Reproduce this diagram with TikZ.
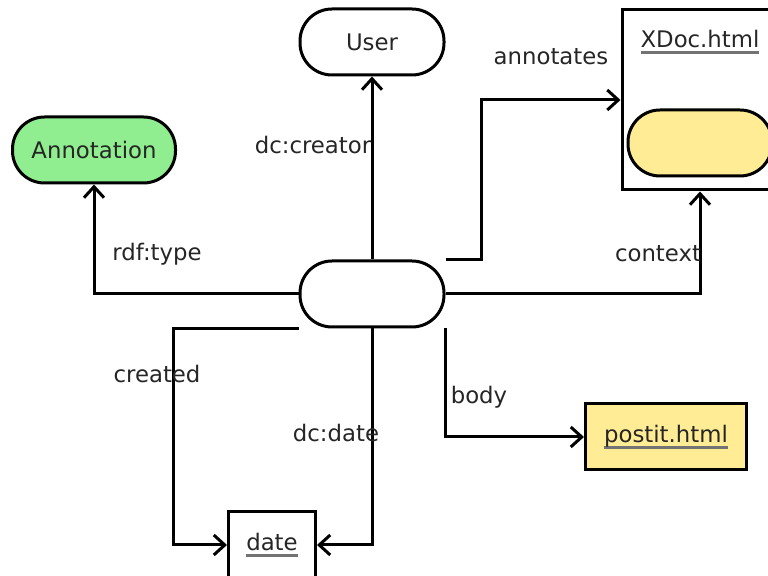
\documentclass[tikz,border=0pt]{standalone}
\usepackage{fontspec}
\setmainfont{DejaVu Sans}
\usepackage{xcolor}
\usetikzlibrary{positioning, arrows.meta, calc}

\definecolor{classgreen}{RGB}{144,238,144}
\definecolor{docyellow}{RGB}{255,236,148}
\newsavebox{\doclabelbox}
\newcommand{\docref}[1]{\sbox{\doclabelbox}{#1}%
  \leavevmode\rlap{\raisebox{-3.2pt}{\color{black!55}\rule{\wd\doclabelbox}{1.3pt}}}\usebox{\doclabelbox}}

\tikzset{
  pill/.style={draw, line width=1.5pt, rounded corners=16pt, minimum width=72pt, minimum height=33pt, inner sep=0pt},
  docbox/.style={draw, line width=1.5pt, inner sep=0pt},
  link/.style={-{Straight Barb[length=5.5pt,width=10pt,line width=1.5pt]}, line width=1.5pt},
  every node/.style={font=\fontsize{11.4}{14}\selectfont, text=black!85}
}

\begin{document}
\begin{tikzpicture}[x=0.5pt, y=-0.5pt]
        \useasboundingbox (0,0) rectangle (768,576);

        % Resources
        \node[pill] (user) at (372,42) {User};
        \node[pill, fill=classgreen, minimum width=81.5pt] (annot) at (94,150) {Annotation};
        \node[pill] (res) at (372,294) {};

        % Annotated document
        \node[docbox, minimum width=78pt, minimum height=90pt] (xdoc) at (700,100) {};
        \node (xdoctitle) at (700,42) {\docref{XDoc.html}};
        \node[pill, fill=docyellow] (ctx) at (700,143) {};

        % Body and date
        \node[docbox, fill=docyellow, minimum width=80.5pt, minimum height=33pt] (postit) at (666,437) {\docref{postit.html}};
        \node[docbox, minimum width=43.5pt, minimum height=33pt] (date) at (272,545) {\docref{date}};

        % Properties
        \draw[link] (res.north) -- (user.south);
        \draw[link] (res.west) -| (annot.south);
        \draw[link] (res.north east) -- ++(36,0) |- (xdoc.west);
        \draw[link] (res.east) -| (xdoc.south);
        \draw[link] (res.south east) |- (postit.west);
        \draw[link] (res.south) |- (date.east);
        \draw[link] (res.south west) -- ++(-125,0) |- (date.west);

        % Property labels
        \node (creator) at (313,145) {dc:creator};
        \node (type) at (157,254) {rdf:type};
        \node (annotates) at (551,57) {annotates};
        \node (context) at (658,254) {context};
        \node (created) at (157,374) {created};
        \node (body) at (479,397) {body};
        \node (dcdate) at (336,433) {dc:date};
      \end{tikzpicture}
\end{document}
